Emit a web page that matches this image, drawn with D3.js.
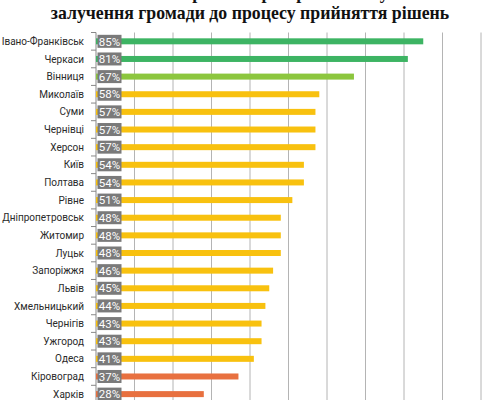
<!DOCTYPE html>
<html lang="uk">
<head>
  <meta charset="UTF-8">
  <title>Залучення громади</title>
  <script src="https://cdn.jsdelivr.net/npm/d3@7"></script>
  <style>
    body { margin: 0; background: #fff; }
    svg { display: block; }
    .title { font: bold 17.8px "Liberation Serif", serif; fill: #111; text-anchor: middle; }
    .cat { font: 10px Roboto, sans-serif; fill: #2a2a2a; text-anchor: end; }
    .val { font: 11.5px Roboto, sans-serif; fill: #fff; text-anchor: middle; }
  </style>
</head>
<body>
  <svg id="chart" width="500" height="400"></svg>
  <script>
    const cities = ['Івано-Франківськ', 'Черкаси', 'Вінниця', 'Миколаїв', 'Суми', 'Чернівці', 'Херсон',
      'Київ', 'Полтава', 'Рівне', 'Дніпропетровськ', 'Житомир', 'Луцьк', 'Запоріжжя', 'Львів',
      'Хмельницький', 'Чернігів', 'Ужгород', 'Одеса', 'Кіровоград', 'Харків'];
    const values = [85, 81, 67, 58, 57, 57, 57, 54, 54, 51, 48, 48, 48, 46, 45, 44, 43, 43, 41, 37, 28];
    const gridTicks = [0, 10, 20, 30, 40, 50, 60, 70, 80, 90, 100];

    const svg = d3.select('#chart');
    const topY = 32.5, step = 17.64;

    const x = d3.scaleLinear().domain([0, 100]).range([96, 481]);
    const y = d3.scaleBand().domain(cities).range([topY, topY + step * cities.length]);
    // колір за рівнем
    const color = d3.scaleThreshold()
      .domain([40, 60, 80])
      .range(['#e8703f', '#f8c10f', '#8cc63e', '#3db463']);

    // заголовок (верхній рядок обрізаний краєм, як на оригіналі)
    svg.append('text').attr('class', 'title').attr('x', 250).attr('y', -1)
      .text('Рейтинг міст за рівнем прозорості та ступенем');
    svg.append('text').attr('class', 'title').attr('x', 250).attr('y', 19)
      .text('залучення громади до процесу прийняття рішень');

    // сітка
    svg.append('g').selectAll('line').data(gridTicks).join('line')
      .attr('x1', d => x(d)).attr('x2', d => x(d))
      .attr('y1', topY).attr('y2', 400)
      .attr('stroke', d => d === 0 ? '#888' : '#b4b4b4')
      .attr('stroke-width', 1);

    // поділки між категоріями
    svg.append('g').selectAll('line').data(cities).join('line')
      .attr('x1', x(0) - 5).attr('x2', x(0))
      .attr('y1', d => y(d)).attr('y2', d => y(d))
      .attr('stroke', '#888');

    svg.append('g').selectAll('text').data(cities).join('text')
      .attr('class', 'cat')
      .attr('x', x(0) - 12)
      .attr('y', d => y(d) + y.bandwidth() / 2 + 3.6)
      .text(d => d);

    const rows = cities.map((c, i) => ({ city: c, v: values[i] }));

    // смуги
    svg.append('g').selectAll('rect').data(rows).join('rect')
      .attr('x', x(0))
      .attr('y', d => y(d.city) + y.bandwidth() / 2 - 3)
      .attr('width', d => x(d.v) - x(0))
      .attr('height', 6)
      .attr('fill', d => color(d.v));

    // підписи значень
    const lab = svg.append('g').selectAll('g').data(rows).join('g')
      .attr('transform', d => `translate(${x(0) + 1.5},${y(d.city) + y.bandwidth() / 2})`);
    lab.append('rect').attr('x', 0).attr('y', -6.5).attr('width', 24).attr('height', 13)
      .attr('fill', '#7a7a7a');
    lab.append('text').attr('class', 'val').attr('x', 12).attr('y', 4.2)
      .text(d => d.v + '%');
  </script>
</body>
</html>
